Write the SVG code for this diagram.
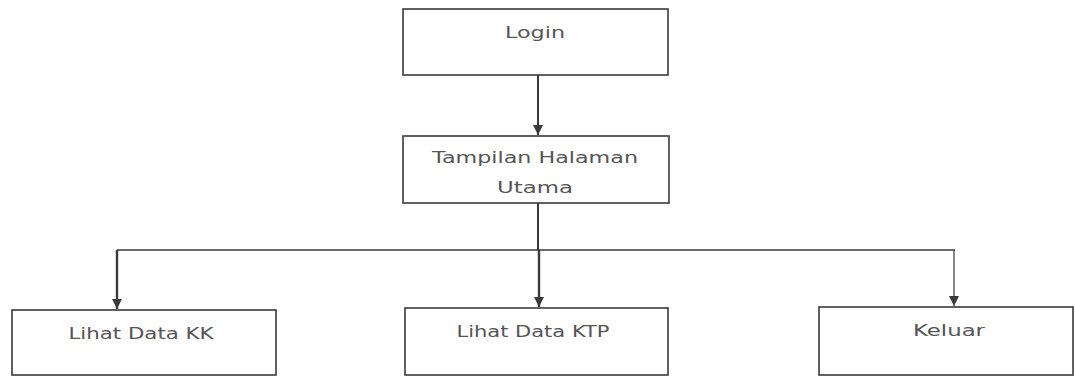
<svg xmlns="http://www.w3.org/2000/svg" width="1075" height="376" viewBox="0 0 1075 376">
<defs>
<style>
.box{fill:#fff;stroke:#3a3a3a;stroke-width:1.6}
.t{font-family:"DejaVu Sans",Verdana,sans-serif;font-size:15px;fill:#555}
.c{fill:none;stroke:#3a3a3a}
</style>
<marker id="ah" viewBox="0 0 10 10" refX="10" refY="5" markerWidth="10" markerHeight="10" markerUnits="userSpaceOnUse" orient="auto">
<path d="M0,0 L10,5 L0,10 Z" fill="#3a3a3a"/>
</marker>
</defs>
<rect width="1075" height="376" fill="#fff"/>
<g id="connectors">
<path class="c" stroke-width="2" d="M538,75 L538,135" marker-end="url(#ah)"/>
<path class="c" stroke-width="2" d="M538,203 L538,250"/>
<path class="c" stroke-width="1.6" d="M117,250 L955,250"/>
<path class="c" stroke-width="2.4" d="M117,250 L117,309" marker-end="url(#ah)"/>
<path class="c" stroke-width="2.4" d="M539,250 L539,307" marker-end="url(#ah)"/>
<path class="c" stroke-width="1.2" d="M954,250 L954,306" marker-end="url(#ah)"/>
</g>
<g id="login">
<rect class="box" x="403" y="9" width="265" height="66"/>
<text class="t" x="535" y="38" text-anchor="middle" textLength="60" lengthAdjust="spacingAndGlyphs">Login</text>
</g>
<g id="halaman-utama">
<rect class="box" x="403" y="136" width="266" height="67"/>
<text class="t" x="535" y="163" text-anchor="middle" textLength="206" lengthAdjust="spacingAndGlyphs">Tampilan Halaman</text>
<text class="t" x="535" y="193" text-anchor="middle" textLength="76" lengthAdjust="spacingAndGlyphs">Utama</text>
</g>
<g id="lihat-kk">
<rect class="box" x="12" y="310" width="264" height="65"/>
<text class="t" x="141" y="339" text-anchor="middle" textLength="145" lengthAdjust="spacingAndGlyphs">Lihat Data KK</text>
</g>
<g id="lihat-ktp">
<rect class="box" x="405" y="308" width="263" height="67"/>
<text class="t" x="533" y="337" text-anchor="middle" textLength="153" lengthAdjust="spacingAndGlyphs">Lihat Data KTP</text>
</g>
<g id="keluar">
<rect class="box" x="819" y="307" width="254" height="68"/>
<text class="t" x="949" y="336" text-anchor="middle" textLength="72" lengthAdjust="spacingAndGlyphs">Keluar</text>
</g>
</svg>
